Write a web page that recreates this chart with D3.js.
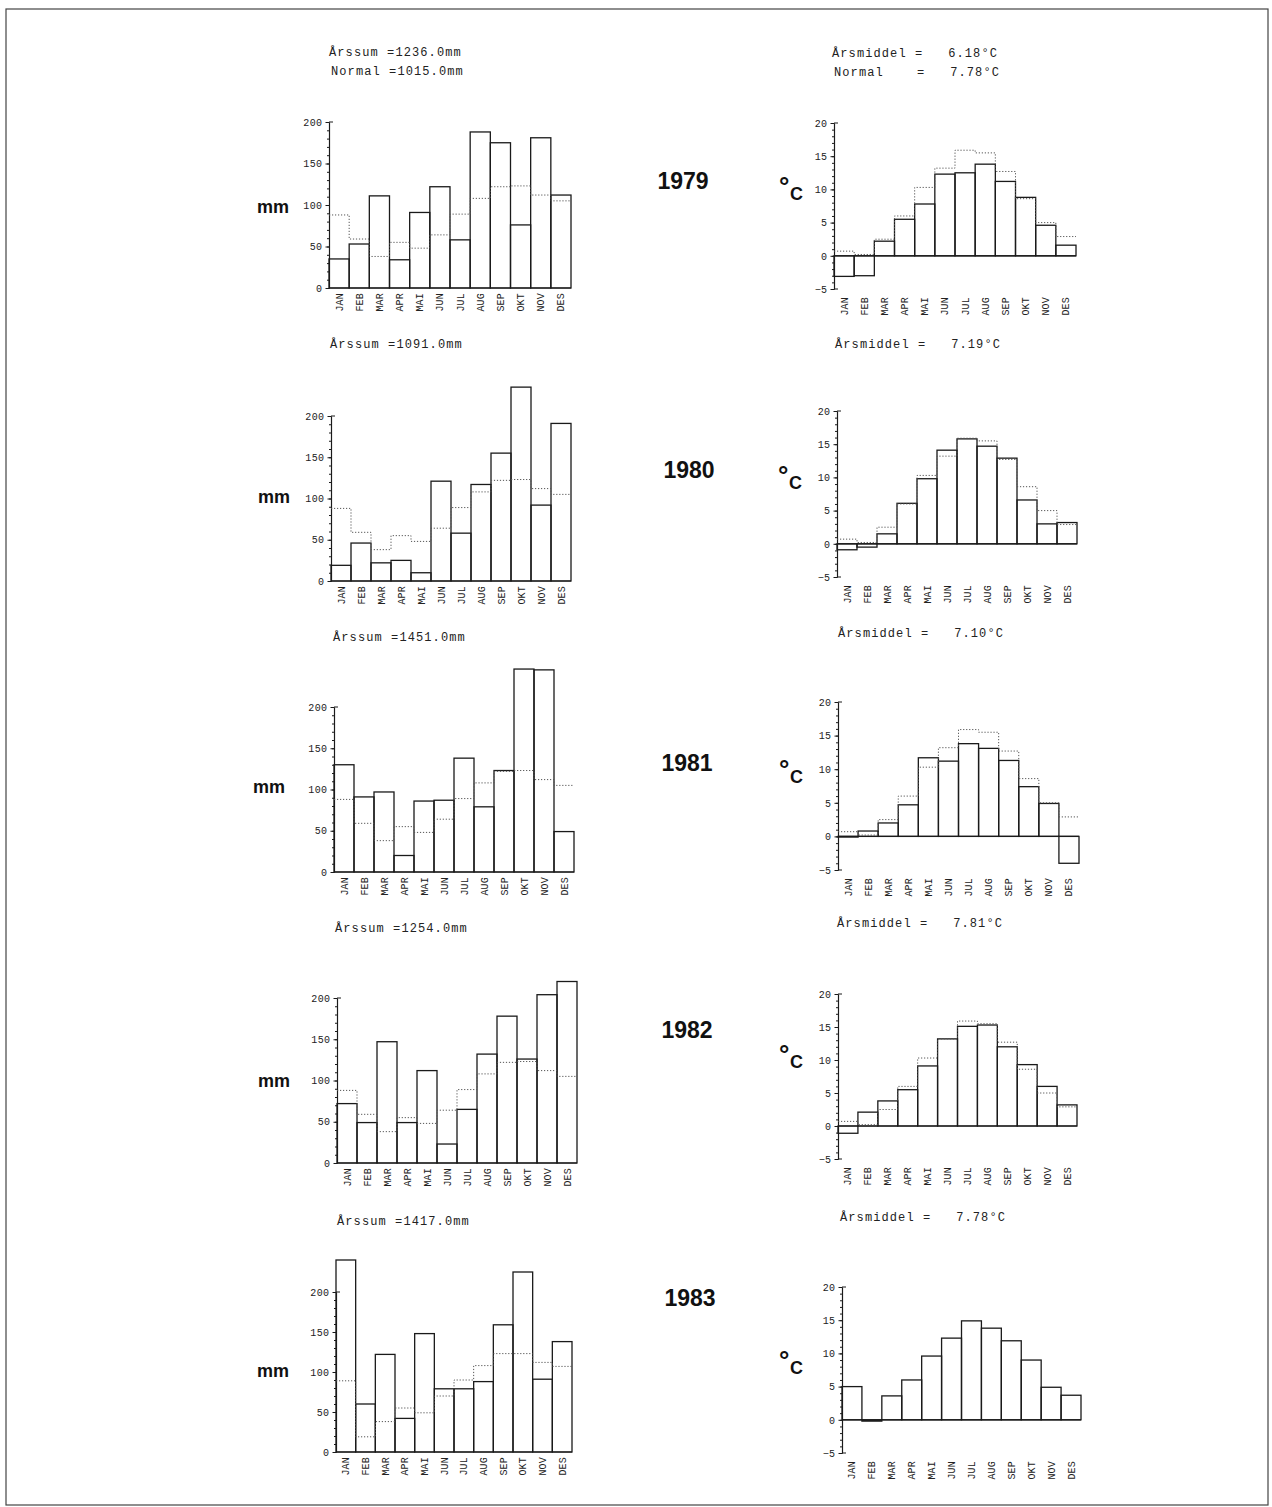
<!DOCTYPE html>
<html>
<head>
<meta charset="utf-8">
<script src="https://cdn.jsdelivr.net/npm/d3@7"></script>
<style>
  html, body { margin: 0; padding: 0; background: #fff; }
  svg { display: block; }
  .plot { font-family: "Liberation Mono", "DejaVu Sans Mono", monospace; fill: #222; }
  .big { font-family: "Liberation Sans", Arial, sans-serif; font-weight: bold; fill: #111; }
</style>
</head>
<body>
<script>
// ---------- DATA ----------
const months = ["JAN","FEB","MAR","APR","MAI","JUN","JUL","AUG","SEP","OKT","NOV","DES"];
const years = [1979, 1980, 1981, 1982, 1983];

// Monthly precipitation (mm)
const precip1979 = [35, 53, 111, 34, 91, 122, 58, 188, 175, 76, 181, 112];
const precip1980 = [19, 46, 22, 25, 10, 121, 58, 117, 155, 235, 92, 191];
const precip1981 = [130, 91, 97, 20, 86, 87, 138, 79, 123, 246, 245, 49];
const precip1982 = [72, 49, 147, 49, 112, 23, 65, 132, 178, 126, 204, 220];
const precip1983 = [240, 60, 122, 42, 148, 79, 79, 88, 159, 225, 91, 138];
// Normal precipitation (dotted step line)
const precipNormal = [88, 59, 38, 55, 48, 64, 89, 108, 122, 123, 112, 105];
const precipNormal1983 = [89, 19, 38, 55, 49, 70, 90, 108, 123, 123, 112, 107];

// Monthly mean temperature (°C)
const temp1979 = [-3.1, -3.0, 2.2, 5.5, 7.8, 12.3, 12.5, 13.8, 11.2, 8.8, 4.6, 1.6];
const temp1980 = [-0.9, -0.5, 1.5, 6.1, 9.8, 14.1, 15.8, 14.7, 12.9, 6.6, 3.0, 3.2];
const temp1981 = [-0.1, 0.8, 2.0, 4.7, 11.7, 11.2, 13.8, 13.1, 11.3, 7.4, 4.9, -4.0];
const temp1982 = [-1.1, 2.1, 3.8, 5.5, 9.1, 13.2, 15.1, 15.3, 12.0, 9.3, 6.0, 3.2];
const temp1983 = [5.0, -0.2, 3.6, 6.0, 9.6, 12.3, 14.9, 13.8, 11.9, 9.0, 4.9, 3.7];
// Normal temperature (dotted step line; not drawn for 1983)
const tempNormal = [0.7, 0.2, 2.5, 6.0, 10.3, 13.2, 15.9, 15.5, 12.7, 8.6, 5.0, 2.9];

// Annual texts
const annualSum = ["1236.0", "1091.0", "1451.0", "1254.0", "1417.0"];
const annualMean = ["6.18", "7.19", "7.10", "7.81", "7.78"];
const normalSum = "1015.0";
const normalMean = "7.78";

// Axis ticks
const precipTicks = [0, 50, 100, 150, 200];
const tempTicks = [-5, 0, 5, 10, 15, 20];

// ---------- LAYOUT ----------
const W = 1272, H = 1507;
const precipLayout = [
  {x0: 329, x1: 571, y0: 288, yTop: 122},
  {x0: 331, x1: 571, y0: 581, yTop: 416},
  {x0: 334, x1: 574, y0: 872, yTop: 707},
  {x0: 337, x1: 577, y0: 1163, yTop: 998},
  {x0: 336, x1: 572, y0: 1452, yTop: 1292}
];
const tempLayout = [
  {x0: 834, x1: 1076, yTop: 123, yBot: 289},
  {x0: 837, x1: 1077, yTop: 411, yBot: 577},
  {x0: 838, x1: 1079, yTop: 702, yBot: 870},
  {x0: 838, x1: 1077, yTop: 994, yBot: 1159},
  {x0: 842, x1: 1081, yTop: 1287, yBot: 1453}
];
const sumPos = [[329, 56], [330, 348], [333, 641], [335, 932], [337, 1225]];
const meanPos = [[832, 57], [835, 348], [838, 637], [837, 927], [840, 1221]];
const yearPos = [[683, 189], [689, 478], [687, 771], [687, 1038], [690, 1306]];
const mmPos = [[257, 213], [258, 503], [253, 793], [258, 1087], [257, 1377]];
const degPos = [[790, 200], [789, 489], [790, 783], [790, 1068], [790, 1374]];

const precipData = [precip1979, precip1980, precip1981, precip1982, precip1983];
const precipNormals = [precipNormal, precipNormal, precipNormal, precipNormal, precipNormal1983];
const tempData = [temp1979, temp1980, temp1981, temp1982, temp1983];
const tempNormals = [tempNormal, tempNormal, tempNormal, tempNormal, null];

const svg = d3.select("body").append("svg").attr("width", W).attr("height", H);
svg.append("rect").attr("width", W).attr("height", H).attr("fill", "#fff");
svg.append("rect").attr("x", 6).attr("y", 9).attr("width", 1262).attr("height", 1496)
  .attr("fill", "none").attr("stroke", "#444").attr("stroke-width", 1.2);

const LINE = "#1a1a1a";

function styleAxis(g) {
  g.select(".domain").attr("stroke", LINE).attr("stroke-width", 1.1);
  g.selectAll(".tick line").attr("stroke", LINE).attr("stroke-width", 1);
  g.selectAll(".tick text").attr("class", "plot").attr("font-size", 10)
    .attr("letter-spacing", 0.4).attr("font-family", null).attr("fill", "#222");
}

function monthLabels(g, x, yAnchor) {
  g.selectAll("text.m").data(months).join("text").attr("class", "plot m")
    .attr("font-size", 10).attr("letter-spacing", 0.2)
    .attr("text-anchor", "end").attr("dy", "0.35em")
    .attr("transform", d => `translate(${x(d) + x.bandwidth() / 2},${yAnchor}) rotate(-90)`)
    .text(d => d);
}

function stepPath(x, y, vals, xEnd) {
  const pts = vals.map((v, j) => [x(months[j]), y(v)]);
  pts.push([xEnd, y(vals[vals.length - 1])]);
  return d3.line().curve(d3.curveStepAfter)(pts);
}

function drawPrecip(i) {
  const L = precipLayout[i];
  const x = d3.scaleBand().domain(months).range([L.x0, L.x1]).padding(0);
  const y = d3.scaleLinear().domain([0, 200]).range([L.y0, L.yTop]);
  const g = svg.append("g");
  g.append("g").attr("transform", `translate(${L.x0},0)`)
    .call(d3.axisLeft(y).tickValues(d3.range(0, 201, 10)).tickSize(2).tickFormat("").tickSizeOuter(0))
    .call(styleAxis);
  g.append("g").attr("transform", `translate(${L.x0},0)`)
    .call(d3.axisLeft(y).tickValues(precipTicks).tickSize(3.5).tickPadding(3).tickSizeOuter(0))
    .call(styleAxis);
  g.append("line").attr("x1", L.x0).attr("x2", L.x0 + 4).attr("y1", y(200)).attr("y2", y(200))
    .attr("stroke", LINE).attr("stroke-width", 1);
  g.selectAll("rect.bar").data(precipData[i]).join("rect").attr("class", "bar")
    .attr("x", (d, j) => x(months[j])).attr("width", x.bandwidth())
    .attr("y", d => y(d)).attr("height", d => y(0) - y(d))
    .attr("fill", "none").attr("stroke", LINE).attr("stroke-width", 1.3);
  g.append("line").attr("x1", L.x0).attr("x2", L.x1).attr("y1", y(0)).attr("y2", y(0))
    .attr("stroke", LINE).attr("stroke-width", 1.2);
  g.append("path").attr("d", stepPath(x, y, precipNormals[i], L.x1))
    .attr("fill", "none").attr("stroke", "#555").attr("stroke-width", 1)
    .attr("stroke-dasharray", "1.2,1.8");
  monthLabels(g, x, L.y0 + 5);
}

function drawTemp(i) {
  const L = tempLayout[i];
  const x = d3.scaleBand().domain(months).range([L.x0, L.x1]).padding(0);
  const y = d3.scaleLinear().domain([-5, 20]).range([L.yBot, L.yTop]);
  const g = svg.append("g");
  g.append("g").attr("transform", `translate(${L.x0},0)`)
    .call(d3.axisLeft(y).tickValues(d3.range(-5, 21, 1)).tickSize(2).tickFormat("").tickSizeOuter(0))
    .call(styleAxis);
  g.append("g").attr("transform", `translate(${L.x0},0)`)
    .call(d3.axisLeft(y).tickValues(tempTicks).tickSize(3.5).tickPadding(3).tickSizeOuter(0))
    .call(styleAxis);
  [20, -5].forEach(v => g.append("line").attr("x1", L.x0).attr("x2", L.x0 + 4)
    .attr("y1", y(v)).attr("y2", y(v)).attr("stroke", LINE).attr("stroke-width", 1));
  g.selectAll("rect.bar").data(tempData[i]).join("rect").attr("class", "bar")
    .attr("x", (d, j) => x(months[j])).attr("width", x.bandwidth())
    .attr("y", d => y(Math.max(d, 0))).attr("height", d => Math.abs(y(0) - y(d)))
    .attr("fill", "none").attr("stroke", LINE).attr("stroke-width", 1.3);
  g.append("line").attr("x1", L.x0).attr("x2", L.x1).attr("y1", y(0)).attr("y2", y(0))
    .attr("stroke", LINE).attr("stroke-width", 1.2);
  if (tempNormals[i]) {
    g.append("path").attr("d", stepPath(x, y, tempNormals[i], L.x1))
      .attr("fill", "none").attr("stroke", "#555").attr("stroke-width", 1)
      .attr("stroke-dasharray", "1.2,1.8");
  }
  monthLabels(g, x, L.yBot + 8);
}

function plotText(x, y, s) {
  svg.append("text").attr("class", "plot").attr("x", x).attr("y", y)
    .attr("font-size", 12).attr("letter-spacing", 1.1)
    .attr("xml:space", "preserve").style("white-space", "pre").text(s);
}

years.forEach((yr, i) => {
  drawPrecip(i);
  drawTemp(i);
  plotText(sumPos[i][0], sumPos[i][1], `Årssum =${annualSum[i]}mm`);
  plotText(meanPos[i][0], meanPos[i][1], `Årsmiddel =   ${annualMean[i]}°C`);
  if (i === 0) {
    plotText(sumPos[i][0] + 2, sumPos[i][1] + 19, `Normal =${normalSum}mm`);
    plotText(meanPos[i][0] + 2, meanPos[i][1] + 19, `Normal    =   ${normalMean}°C`);
  }
  svg.append("text").attr("class", "big").attr("x", yearPos[i][0]).attr("y", yearPos[i][1])
    .attr("text-anchor", "middle").attr("font-size", 23).text(yr);
  svg.append("text").attr("class", "big").attr("x", mmPos[i][0]).attr("y", mmPos[i][1])
    .attr("font-size", 18).text("mm");
  svg.append("text").attr("class", "big").attr("x", degPos[i][0] - 11).attr("y", degPos[i][1] - 5)
    .attr("font-size", 26).text("°");
  svg.append("text").attr("class", "big").attr("x", degPos[i][0]).attr("y", degPos[i][1])
    .attr("font-size", 18).text("C");
});
</script>
</body>
</html>
